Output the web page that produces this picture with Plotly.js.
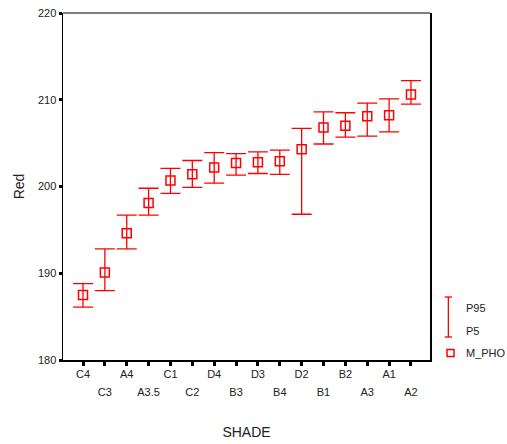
<!DOCTYPE html>
<html><head><meta charset="utf-8">
<script src="https://cdn.plot.ly/plotly-3.0.1.min.js"></script>
<style>html,body{margin:0;padding:0;background:#fff}#chart{width:507px;height:444px}</style>
</head><body><div id="chart"></div>
<script>
const shades = ["C4","C3","A4","A3.5","C1","C2","D4","B3","D3","B4","D2","B1","B2","A3","A1","A2"];
const mPho = [187.5,190.1,194.6,198.1,200.7,201.4,202.2,202.7,202.8,202.9,204.3,206.8,207.0,208.1,208.2,210.6];
const p95  = [188.8,192.8,196.7,199.8,202.1,203.0,203.9,203.8,204.0,204.2,206.7,208.6,208.5,209.6,210.1,212.2];
const p5   = [186.1,188.0,192.8,196.7,199.2,199.9,200.4,201.3,201.5,201.4,196.8,204.9,205.7,205.8,206.3,209.5];
const yTicks = [180,190,200,210,220];

const red = "#ff0000";
const xIdx = shades.map((s,i)=>i);
const evenIdx = xIdx.filter(i=>i%2===0), oddIdx = xIdx.filter(i=>i%2===1);

const trace = {
  type:"scatter", mode:"markers", x:xIdx, y:mPho, name:"M_PHO",
  marker:{symbol:"square-open", size:9, color:red, line:{width:1.5, color:red}},
  error_y:{type:"data", symmetric:false,
    array:p95.map((v,i)=>v-mPho[i]), arrayminus:mPho.map((v,i)=>v-p5[i]),
    color:red, thickness:1.3, width:10},
  showlegend:false, hoverinfo:"skip"
};

const fontFam = "Liberation Sans, Arial, sans-serif";
const tf = {family:fontFam, size:11, color:"#222"};
const range = [-0.915,15.87];
const layout = {
  width:507, height:444,
  margin:{l:63, r:77, t:13, b:84},
  paper_bgcolor:"#fff", plot_bgcolor:"#fff",
  font:tf,
  showlegend:false,
  xaxis:{
    range:range, tickvals:xIdx, ticktext:xIdx.map(i=> i%2===0 ? shades[i] : ""),
    showgrid:false, zeroline:false, showline:true, linecolor:"#000", linewidth:1.5,
    ticks:"outside", ticklen:4, tickwidth:3, tickcolor:"#000",
    ticklabelstandoff:-1,
    tickfont:tf,
    title:{text:"SHADE", font:{family:fontFam, size:14, color:"#222"}, standoff:48}
  },
  xaxis2:{
    range:range, overlaying:"x", anchor:"y", side:"bottom",
    tickvals:oddIdx, ticktext:oddIdx.map(i=>shades[i]),
    showgrid:false, zeroline:false, showline:false,
    ticks:"outside", ticklen:4, tickwidth:1, tickcolor:"rgba(0,0,0,0)",
    ticklabelstandoff:18,
    tickfont:tf
  },
  yaxis:{
    range:[180,220], tickvals:yTicks, ticktext:yTicks.map(String),
    showgrid:false, zeroline:false, showline:true, mirror:true, linecolor:"#000", linewidth:1.5,
    ticks:"outside", ticklen:3, tickwidth:3, tickcolor:"#000",
    tickfont:tf,
    title:{text:"Red", font:{family:fontFam, size:14, color:"#222"}, standoff:10}
  },
  shapes:[
    {type:"line", xref:"paper", yref:"paper", x0:0, x1:1, y0:1, y1:1, line:{color:"#555", width:1.5}},
    {type:"line", xref:"paper", yref:"paper", x0:1.05, x1:1.05, y0:(444-84-297)/347, y1:(444-84-337)/347, line:{color:red, width:1.3}},
    {type:"line", xref:"paper", yref:"paper", x0:1.04, x1:1.06, y0:(444-84-297)/347, y1:(444-84-297)/347, line:{color:red, width:1.3}},
    {type:"line", xref:"paper", yref:"paper", x0:1.04, x1:1.06, y0:(444-84-337)/347, y1:(444-84-337)/347, line:{color:red, width:1.3}},
    {type:"rect", xref:"paper", yref:"paper", x0:(447-63)/367, x1:(454-63)/367, y0:(360-356.5)/347, y1:(360-349.5)/347, line:{color:red, width:1.5}, fillcolor:"rgba(0,0,0,0)"}
  ],
  annotations:[
    {xref:"paper", yref:"paper", x:(464-63)/367, y:(360-308)/347, text:"P95", showarrow:false, xanchor:"left", yanchor:"middle", font:tf},
    {xref:"paper", yref:"paper", x:(464-63)/367, y:(360-331)/347, text:"P5", showarrow:false, xanchor:"left", yanchor:"middle", font:tf},
    {xref:"paper", yref:"paper", x:(464-63)/367, y:(360-353)/347, text:"M_PHO", showarrow:false, xanchor:"left", yanchor:"middle", font:tf}
  ]
};
const dummy = {type:"scatter", x:[], y:[], xaxis:"x2", yaxis:"y", showlegend:false, hoverinfo:"skip"};
Plotly.newPlot("chart",[trace, dummy],layout,{displayModeBar:false, staticPlot:true});
</script></body></html>
